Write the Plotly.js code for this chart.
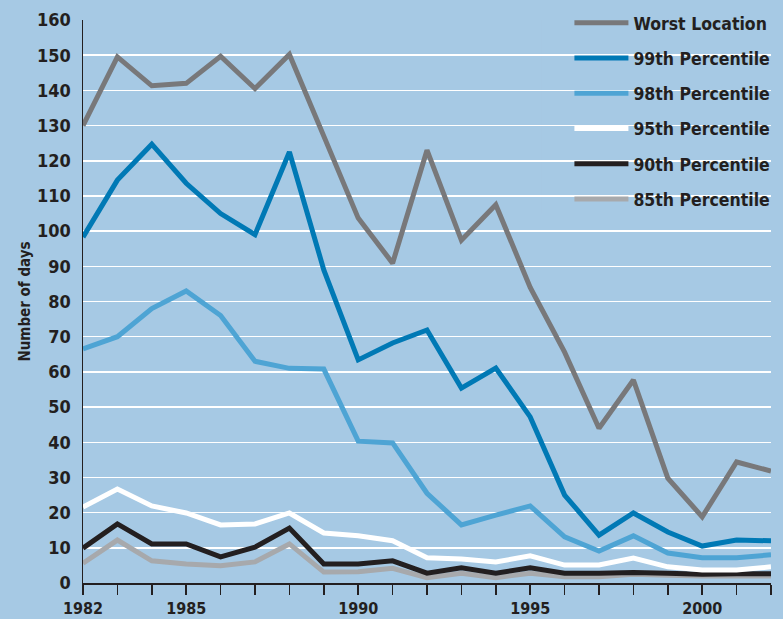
<!DOCTYPE html>
<html>
<head>
<meta charset="utf-8">
<script src="https://cdn.plot.ly/plotly-3.0.1.min.js"></script>
<style>
html,body{margin:0;padding:0;background:#a6c9e4;}
#chart{width:783px;height:619px;}
</style>
</head>
<body>
<div id="chart"></div>
<script>
var years = [1982,1983,1984,1985,1986,1987,1988,1989,1990,1991,1992,1993,1994,1995,1996,1997,1998,1999,2000,2001,2002];
var worstLocation = [130,149.5,141.3,142,149.7,140.5,150.2,127,103.7,90.9,123,97.4,107.5,84,65.6,44,57.7,29.8,18.8,34.4,31.8];
var p99 = [98.3,114.5,124.7,113.6,105,99,122.5,89,63.4,68.2,71.9,55.4,61.1,47.2,25,13.6,19.9,14.5,10.5,12.2,12];
var p98 = [66.5,70,78,83,76,63,61,60.8,40.3,39.8,25.5,16.5,19.3,21.9,13.1,9.1,13.4,8.5,7.2,7.2,8];
var p95 = [21.6,26.7,21.9,19.9,16.5,16.8,19.9,14.2,13.4,12,7.2,6.8,6,7.7,5.1,5.1,7.1,4.6,3.7,3.7,4.6];
var p90 = [9.9,16.8,11.1,11.1,7.4,10.2,15.6,5.4,5.4,6.3,2.8,4.3,2.8,4.3,2.8,2.8,3,2.8,2.5,2.6,2.6];
var p85 = [5.6,12.2,6.3,5.4,4.9,6,11.1,3.1,3.2,4.2,1.5,2.8,1.5,2.8,1.8,1.8,2.5,2.2,2,2,2];

var seriesNames = ['Worst Location','99th Percentile','98th Percentile','95th Percentile','90th Percentile','85th Percentile'];
var seriesValues = [worstLocation,p99,p98,p95,p90,p85];
var seriesColors = ['#78787a','#0079b5','#4ea4d4','#ffffff','#231f20','#a7a9ac'];

var xTickVals = years;
var xTickText = years.map(function(y){ return (y===1982 || y%5===0) ? String(y) : ''; });
var yTickVals = [0,10,20,30,40,50,60,70,80,90,100,110,120,130,140,150,160];

var FONT = '"Liberation Sans Narrow", "DejaVu Sans Condensed", "Roboto", sans-serif';
var BG = '#a6c9e4';
var INK = '#231f20';

var traces = [];
for (var i = seriesNames.length - 1; i >= 0; i--) {
  traces.push({
    x: years,
    y: seriesValues[i],
    name: seriesNames[i],
    type: 'scatter',
    mode: 'lines',
    line: {color: seriesColors[i], width: 5, simplify: false},
    legendrank: i + 1,
    legendgroup: 'g' + i,
    hoverinfo: 'skip'
  });
}

var layout = {
  width: 783,
  height: 619,
  paper_bgcolor: BG,
  plot_bgcolor: BG,
  margin: {l: 83, r: 12, t: 20, b: 36, pad: 0, autoexpand: false},
  showlegend: true,
  legend: {
    x: 0.707, xanchor: 'left',
    y: 1.027, yanchor: 'top',
    bgcolor: 'rgba(0,0,0,0)',
    borderwidth: 0,
    font: {family: FONT, size: 17.5, color: INK, weight: 'bold'},
    tracegroupgap: 9.5,
    itemwidth: 54,
    traceorder: 'grouped'
  },
  shapes: [{
    type: 'rect', layer: 'between',
    xref: 'paper', x0: 0.667, x1: 1.0,
    yref: 'y', y0: 105, y1: 170,
    fillcolor: BG, line: {width: 0}
  }],
  xaxis: {
    range: [1982, 2002],
    tickmode: 'array',
    tickvals: xTickVals,
    ticktext: xTickText,
    ticks: 'outside',
    ticklen: 10,
    tickwidth: 1.5,
    tickcolor: INK,
    showline: true,
    linecolor: INK,
    linewidth: 1.5,
    showgrid: false,
    zeroline: false,
    ticklabelstandoff: 0,
    tickfont: {family: FONT, size: 16, color: INK, weight: 'bold'},
    fixedrange: true
  },
  yaxis: {
    range: [0, 160],
    tickmode: 'array',
    tickvals: yTickVals,
    ticks: '',
    showline: true,
    linecolor: INK,
    linewidth: 1.5,
    showgrid: true,
    gridcolor: '#ffffff',
    gridwidth: 1.5,
    zeroline: false,
    ticklabelstandoff: 7,
    tickfont: {family: FONT, size: 18, color: INK, weight: 'bold'},
    title: {text: 'Number of days', font: {family: FONT, size: 15, color: INK, weight: 'bold'}, standoff: 3},
    fixedrange: true
  }
};

Plotly.newPlot('chart', traces, layout, {displayModeBar: false, staticPlot: true});
</script>
</body>
</html>
